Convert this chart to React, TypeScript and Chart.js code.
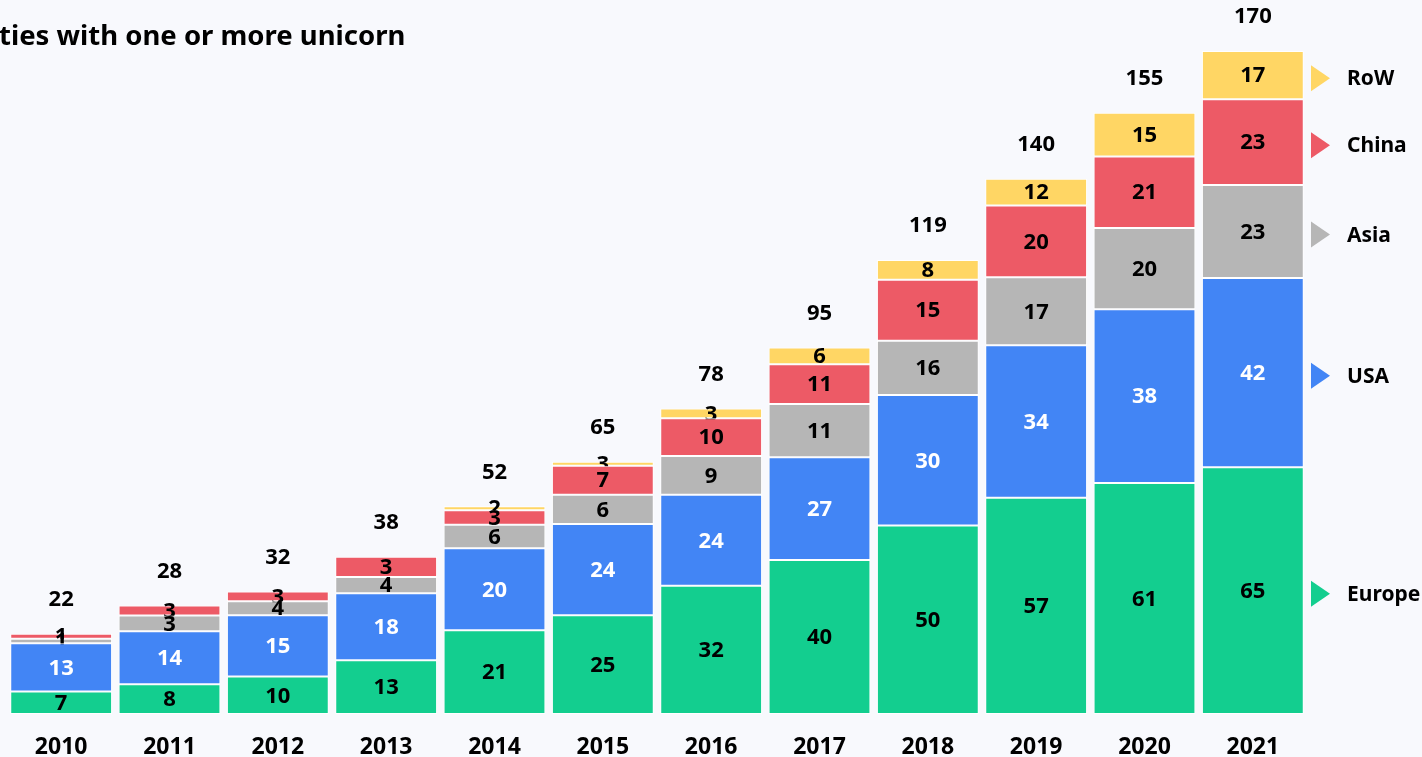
import React, { useEffect, useRef } from "react";
import { Chart, registerables } from "chart.js";

Chart.register(...registerables);

// ---- data ----
const years = ["2010", "2011", "2012", "2013", "2014", "2015", "2016", "2017", "2018", "2019", "2020", "2021"];

// bar segment heights as drawn in the picture
const europeValues = [5.8, 7.7, 9.7, 13.9, 21.7, 25.6, 33.2, 39.9, 48.8, 56.0, 59.8, 63.9];
const usaValues = [12.5, 13.7, 15.9, 17.4, 21.2, 23.6, 23.6, 26.6, 33.8, 39.5, 45.0, 49.0];
const asiaValues = [1.2, 4.1, 3.6, 4.2, 6.1, 7.6, 10.0, 13.8, 14.1, 17.6, 21.1, 24.1];
const chinaValues = [1.3, 2.6, 2.5, 5.2, 3.8, 7.5, 9.8, 10.3, 15.8, 18.6, 18.5, 22.2];
const rowValues = [0, 0, 0, 0, 1.0, 1.0, 2.5, 4.3, 5.1, 6.9, 11.3, 12.5];

// numbers printed on the segments
const europeLabels = [7, 8, 10, 13, 21, 25, 32, 40, 50, 57, 61, 65];
const usaLabels = [13, 14, 15, 18, 20, 24, 24, 27, 30, 34, 38, 42];
const asiaLabels = [1, 3, 4, 4, 6, 6, 9, 11, 16, 17, 20, 23];
const chinaLabels = [1, 3, 3, 3, 3, 7, 10, 11, 15, 20, 21, 23];
const rowLabels = [0, 0, 0, 0, 2, 3, 3, 6, 8, 12, 15, 17];
const totalLabels = [22, 28, 32, 38, 52, 65, 78, 95, 119, 140, 155, 170];

const seriesNames = ["Europe", "USA", "Asia", "China", "RoW"];
const seriesColors = ["#13CE8F", "#4285F5", "#B6B6B6", "#ED5A66", "#FFD664"];
const labelColors = ["#000000", "#ffffff", "#000000", "#000000", "#000000"];
const titleText = "ties with one or more unicorn";

const BG = "#F8F9FD";
const FONT = '"Noto Sans", "DejaVu Sans", sans-serif';

export default function App() {
  const ref = useRef<HTMLCanvasElement | null>(null);

  useEffect(() => {
    document.body.style.margin = "0";
    document.body.style.background = BG;
    const canvas = ref.current;
    if (!canvas) return;

    const values = [europeValues, usaValues, asiaValues, chinaValues, rowValues];
    const segLabels = [europeLabels, usaLabels, asiaLabels, chinaLabels, rowLabels];

    const plugin = {
      id: "unicornDecor",
      beforeDraw(chart: any) {
        const c = chart.ctx;
        c.save();
        c.fillStyle = BG;
        c.fillRect(0, 0, chart.width, chart.height);
        c.restore();
      },
      afterDatasetDraw(chart: any, args: any) {
        const i = args.index;
        const meta = args.meta;
        const c = chart.ctx;
        c.save();
        c.font = `bold 22px ${FONT}`;
        c.textAlign = "center";
        c.textBaseline = "middle";
        c.fillStyle = labelColors[i];
        meta.data.forEach((el: any, j: number) => {
          const v = segLabels[i][j];
          if (!v) return;
          const p = el.getProps(["x", "y", "base"], true);
          c.fillText(String(v), p.x, (p.y + p.base) / 2 + 1);
        });
        c.restore();
      },
      afterDatasetsDraw(chart: any) {
        const c = chart.ctx;
        const area = chart.chartArea;
        c.save();
        // totals
        c.font = `bold 22px ${FONT}`;
        c.textAlign = "center";
        c.textBaseline = "middle";
        c.fillStyle = "#000";
        years.forEach((_, j) => {
          let top = Infinity;
          let x = 0;
          chart.data.datasets.forEach((_d: any, i: number) => {
            const el = chart.getDatasetMeta(i).data[j];
            const p = el.getProps(["x", "y"], true);
            x = p.x;
            if (p.y < top) top = p.y;
          });
          c.fillText(String(totalLabels[j]), x, top - 34);
        });
        // legend aligned with last bar
        const last = years.length - 1;
        c.font = `bold 21px ${FONT}`;
        c.textAlign = "left";
        chart.data.datasets.forEach((_d: any, i: number) => {
          const el = chart.getDatasetMeta(i).data[last];
          const p = el.getProps(["y", "base"], true);
          const cy = (p.y + p.base) / 2 + 3;
          const x0 = area.right + 4;
          c.fillStyle = seriesColors[i];
          c.beginPath();
          c.moveTo(x0, cy - 13);
          c.lineTo(x0 + 19, cy);
          c.lineTo(x0, cy + 13);
          c.closePath();
          c.fill();
          c.fillStyle = "#000";
          c.fillText(seriesNames[i], area.right + 40, cy + 1);
        });
        // title
        c.font = `bold 27.5px ${FONT}`;
        c.textAlign = "left";
        c.fillStyle = "#000";
        c.fillText(titleText, -1, 37);
        c.restore();
      },
    };

    const chart = new Chart(canvas, {
      type: "bar",
      data: {
        labels: years,
        datasets: values.map((v, i) => ({
          label: seriesNames[i],
          data: v,
          backgroundColor: seriesColors[i],
          borderColor: "#ffffff",
          borderWidth: 1,
          borderSkipped: false,
          barPercentage: 0.94,
          categoryPercentage: 1.0,
        })),
      },
      options: {
        responsive: false,
        animation: false,
        layout: { padding: { left: 7, right: 115, top: 19, bottom: -24 } },
        plugins: { legend: { display: false }, tooltip: { enabled: false }, title: { display: false } },
        scales: {
          x: {
            stacked: true,
            grid: { display: false, drawTicks: false },
            border: { display: false },
            ticks: {
              color: "#000",
              font: { family: FONT, size: 23, weight: "bold", lineHeight: 1 },
              padding: 22,
              maxRotation: 0,
            },
          },
          y: { stacked: true, display: false, min: 0, max: 180 },
        },
      },
      plugins: [plugin],
    } as any);

    return () => chart.destroy();
  }, []);

  return (
    <div style={{ position: "fixed", left: 0, top: 0, width: 1422, height: 757, background: BG }}>
      <canvas ref={ref} width={1422} height={757} style={{ display: "block", width: 1422, height: 757 }} />
    </div>
  );
}
